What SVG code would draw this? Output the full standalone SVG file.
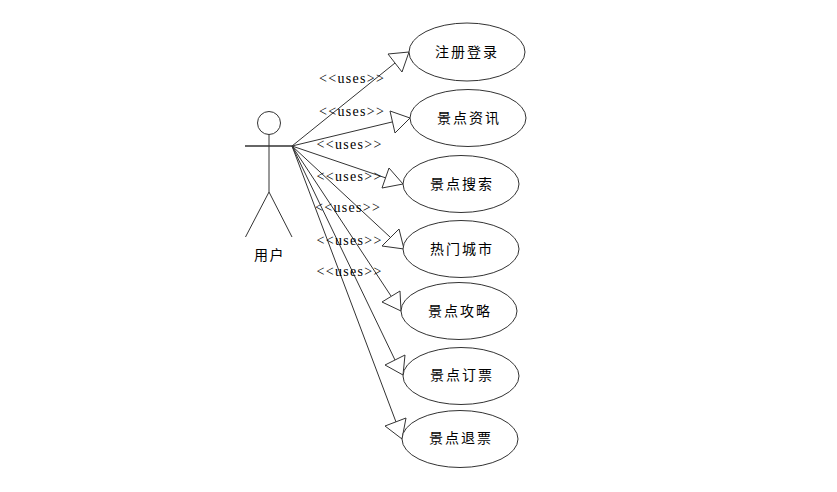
<svg xmlns="http://www.w3.org/2000/svg" width="837" height="492" viewBox="0 0 837 492">
<style>
.s{fill:none;stroke:#333;stroke-width:1}
.n{fill:#fff;stroke:#333;stroke-width:1}
.h{fill:#fff;stroke:#333;stroke-width:1;stroke-linejoin:miter}
.c{font-family:"Noto Sans CJK SC","Liberation Sans",sans-serif;font-size:14px;letter-spacing:2px;fill:#000}
.u{font-family:"Liberation Serif",serif;font-size:14px;letter-spacing:1.300px;fill:#000}
</style>
<rect width="837" height="492" fill="#fff"/>
<g id="connectors">
<path class="s" d="M292 146L395 63M292 146L392 122M292 146L386 178M292 146L390 237M292 146L391 296M292 146L395 360M292 146L396 422"/>
<polygon class="h" points="409,52 388,54 402,72"/>
<polygon class="h" points="410,118 390,111 395,133"/>
<polygon class="h" points="403,184 389,168 382,188"/>
<polygon class="h" points="404,249 399,229 382,246"/>
<polygon class="h" points="401,311 400,291 382,302"/>
<polygon class="h" points="403,375 405,355 385,365"/>
<polygon class="h" points="402,439 406,418 385,426"/>
</g>
<g id="actor">
<circle class="s" cx="269" cy="123" r="11.5"/>
<path class="s" d="M269 134.500V192M245.500 237L269 192L292 237"/>
<path d="M245 146H292" fill="none" stroke="#333" stroke-width="1.500"/>
<text class="c" x="254" y="260" style="letter-spacing:1.500px">用户</text>
</g>
<g id="uc1"><ellipse class="n" cx="467" cy="52" rx="58" ry="29"/><text class="c" x="435" y="57">注册登录</text></g>
<g id="uc2"><ellipse class="n" cx="468" cy="118" rx="58" ry="28.500"/><text class="c" x="437" y="123">景点资讯</text></g>
<g id="uc3"><ellipse class="n" cx="461" cy="184" rx="58" ry="28.500"/><text class="c" x="430" y="189">景点搜索</text></g>
<g id="uc4"><ellipse class="n" cx="461" cy="249" rx="58" ry="28.500"/><text class="c" x="430" y="254">热门城市</text></g>
<g id="uc5"><ellipse class="n" cx="459" cy="311" rx="58" ry="28.500"/><text class="c" x="428" y="316">景点攻略</text></g>
<g id="uc6"><ellipse class="n" cx="461" cy="376" rx="58" ry="28.500"/><text class="c" x="430" y="380">景点订票</text></g>
<g id="uc7"><ellipse class="n" cx="460" cy="439" rx="58" ry="28.500"/><text class="c" x="429" y="443">景点退票</text></g>
<g id="labels">
<text class="u" x="319" y="83">&lt;&lt;uses&gt;&gt;</text>
<text class="u" x="319" y="116">&lt;&lt;uses&gt;&gt;</text>
<text class="u" x="316.500" y="149">&lt;&lt;uses&gt;&gt;</text>
<text class="u" x="316.500" y="181">&lt;&lt;uses&gt;&gt;</text>
<text class="u" x="315" y="212">&lt;&lt;uses&gt;&gt;</text>
<text class="u" x="316.500" y="245">&lt;&lt;uses&gt;&gt;</text>
<text class="u" x="316.500" y="276">&lt;&lt;uses&gt;&gt;</text>
</g>
</svg>
